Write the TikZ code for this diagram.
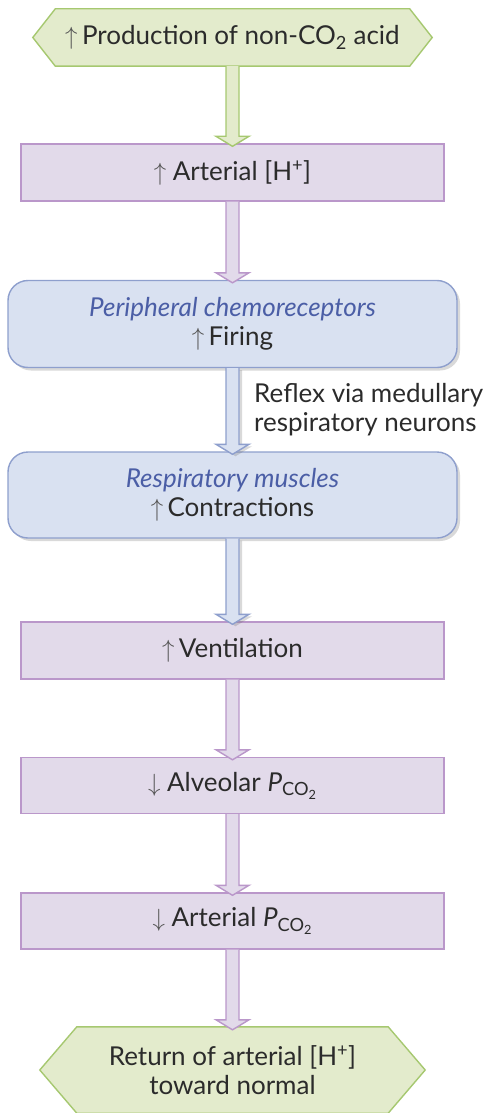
\documentclass[tikz,border=0pt]{standalone}
\usepackage{fontspec}
\setmainfont{Lato}
\usetikzlibrary{calc,shadows}
\definecolor{gfill}{HTML}{E3EBCC}
\definecolor{gline}{HTML}{A6C870}
\definecolor{pfill}{HTML}{E2DAEA}
\definecolor{pline}{HTML}{BA97CA}
\definecolor{bfill}{HTML}{D9E1F1}
\definecolor{bline}{HTML}{8E9FCD}
\definecolor{itc}{HTML}{4B5EA6}
\definecolor{txt}{HTML}{2B2B2B}
\definecolor{arrc}{HTML}{555555}
\pgfdeclarelayer{bg}
\pgfsetlayers{bg,main}
\newcommand\upar{{\color{arrc}$\uparrow$}}
\newcommand\dnar{{\color{arrc}$\downarrow$}}
\newcommand\fatarr[3]{\draw[#1] ($(#2.south)+(-6.5,0)$) -- ($(#3.north)+(-6.5,-7)$) -- ($(#3.north)+(-16.5,-7)$) -- ($(#3.north)+(0,3)$) -- ($(#3.north)+(16.5,-7)$) -- ($(#3.north)+(6.5,-7)$) -- ($(#2.south)+(6.5,0)$);}
\begin{document}
\begin{tikzpicture}[x=1pt,y=-1pt,
  every node/.style={font=\fontsize{26}{29}\selectfont, text=txt, inner sep=0pt, align=center},
  hexbox/.style={minimum width=#1},
  pbox/.style={draw=pline, fill=pfill, line width=1.4pt, minimum width=423, minimum height=57},
  bbox/.style={draw=bline, fill=bfill, line width=1.4pt, minimum width=449, minimum height=87, rounded corners=20pt,
    drop shadow={shadow xshift=3pt, shadow yshift=-3pt, opacity=0.25, fill=black!60}},
  garr/.style={draw=gline, fill=gfill, line width=1.4pt, line join=miter},
  parr/.style={draw=pline, fill=pfill, line width=1.4pt, line join=miter},
  barr/.style={draw=bline, fill=bfill, line width=1.4pt, line join=miter,
    drop shadow={shadow xshift=3pt, shadow yshift=-2pt, opacity=0.25, fill=black!60}},
  hexline/.style={draw=gline, fill=gfill, line width=1.4pt}
]
\useasboundingbox (0,0) rectangle (494,1113);

\node[hexbox=399, minimum height=57] (src) at (232.5,37.5) {\upar\,Production of non-CO\textsubscript{2} acid};
\node[pbox] (h) at (232.5,172.5) {\upar\ Arterial [H\textsuperscript{+}]};
\node[bbox] (pc) at (232.5,324) {{\color{itc}\itshape Peripheral chemoreceptors}\\\upar\,Firing};
\node[bbox, minimum height=86] (rm) at (232.5,495) {{\color{itc}\itshape Respiratory muscles}\\\upar\,Contractions};
\node[pbox] (v) at (232.5,650.5) {\upar\,Ventilation};
\node[pbox, minimum height=56] (ap) at (232.5,785.5) {\dnar\ Alveolar \textit{P}\textsubscript{CO\textsubscript{2}}};
\node[pbox, minimum height=56] (rp) at (232.5,921) {\dnar\ Arterial \textit{P}\textsubscript{CO\textsubscript{2}}};
\node[hexbox=385, minimum height=86] (ret) at (232.5,1070) {Return of arterial [H\textsuperscript{+}]\\toward normal};
\node[anchor=west, align=left] (rfx) at (254,410) {Reflex via medullary\\respiratory neurons};

\begin{pgfonlayer}{bg}
\draw[hexline] (src.west) -- ($(src.north west)+(22.5,0)$) -- ($(src.north east)+(-22.5,0)$) -- (src.east) -- ($(src.south east)+(-22.5,0)$) -- ($(src.south west)+(22.5,0)$) -- cycle;
\draw[hexline] (ret.west) -- ($(ret.north west)+(37,0)$) -- ($(ret.north east)+(-37,0)$) -- (ret.east) -- ($(ret.south east)+(-37,0)$) -- ($(ret.south west)+(37,0)$) -- cycle;
\end{pgfonlayer}

\fatarr{garr}{src}{h}
\fatarr{parr}{h}{pc}
\fatarr{barr}{pc}{rm}
\fatarr{barr}{rm}{v}
\fatarr{parr}{v}{ap}
\fatarr{parr}{ap}{rp}
\fatarr{parr}{rp}{ret}
\end{tikzpicture}
\end{document}
